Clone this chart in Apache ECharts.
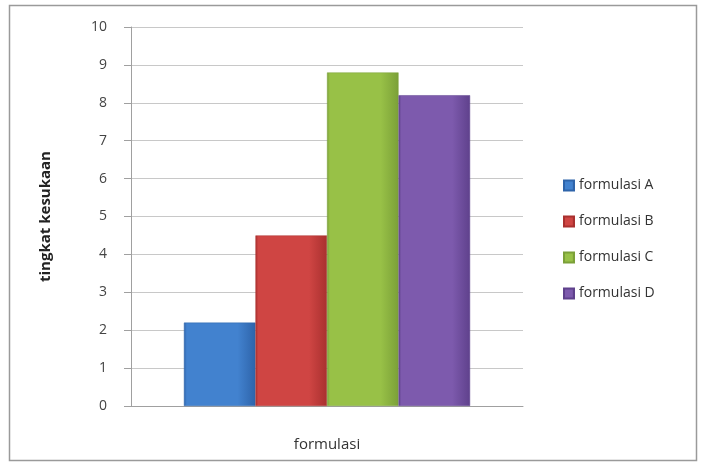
<!DOCTYPE html>
<html><head><meta charset="utf-8">
<script src="https://cdn.jsdelivr.net/npm/echarts@6/dist/echarts.min.js"></script>
<style>html,body{margin:0;padding:0;background:#fff}#c{width:701px;height:466px}</style>
</head><body><div id="c"></div>
<script>
var categories = ['formulasi'];
var seriesNames = ['formulasi A', 'formulasi B', 'formulasi C', 'formulasi D'];
var seriesValues = [2.2, 4.5, 8.8, 8.2];
var yTicks = [0, 10, 1];
var colors = [['#4282cf', '#2e64aa'], ['#cf4543', '#a9302f'], ['#98c147', '#7ba038'], ['#7d5aad', '#5f418c']];

var chart = echarts.init(document.getElementById('c'), null, {renderer: 'canvas'});
var font = '"Open Sans", "Noto Sans", sans-serif';
var series = seriesNames.map(function (n, i) {
  return {
    name: n, type: 'bar', data: [seriesValues[i]],
    barGap: '0%', barCategoryGap: '27%',
    itemStyle: {
      color: new echarts.graphic.LinearGradient(0, 0, 1, 0, [
        {offset: 0, color: colors[i][1]}, {offset: 0.04, color: colors[i][0]},
        {offset: 0.75, color: colors[i][0]}, {offset: 1, color: colors[i][1]}
      ]),
      borderColor: colors[i][1], borderWidth: 0.5
    }
  };
});
chart.setOption({
  animation: false,
  graphic: [{type: 'rect', shape: {x: 9.5, y: 5.5, width: 687, height: 455},
    style: {fill: 'none', stroke: '#9a9a9a', lineWidth: 1.5}}],
  grid: {left: 131, top: 27, width: 392, height: 379},
  legend: {
    orient: 'vertical', left: 558, top: 171, itemGap: 17, itemWidth: 10, itemHeight: 10,
    icon: 'rect', data: seriesNames,
    textStyle: {fontFamily: font, fontSize: 14, color: '#333', lineHeight: 19}
  },
  xAxis: {
    type: 'category', data: categories,
    name: 'formulasi', nameLocation: 'middle', nameGap: 31,
    nameTextStyle: {fontFamily: font, fontSize: 15, color: '#333'},
    axisLine: {lineStyle: {color: '#a0a0a0'}},
    axisTick: {show: false}, axisLabel: {show: false}
  },
  yAxis: {
    type: 'value', min: yTicks[0], max: yTicks[1], interval: yTicks[2],
    name: 'tingkat kesukaan', nameLocation: 'middle', nameGap: 78, nameRotate: 90,
    nameTextStyle: {fontFamily: font, fontSize: 15, color: '#222', fontWeight: 'bold'},
    axisLine: {show: true, lineStyle: {color: '#a0a0a0'}},
    axisTick: {show: true, length: 7, lineStyle: {color: '#a0a0a0'}},
    axisLabel: {fontFamily: font, fontSize: 14, color: '#444', margin: 24},
    splitLine: {lineStyle: {color: '#c8c8c8'}}
  },
  series: series
});
</script></body></html>
